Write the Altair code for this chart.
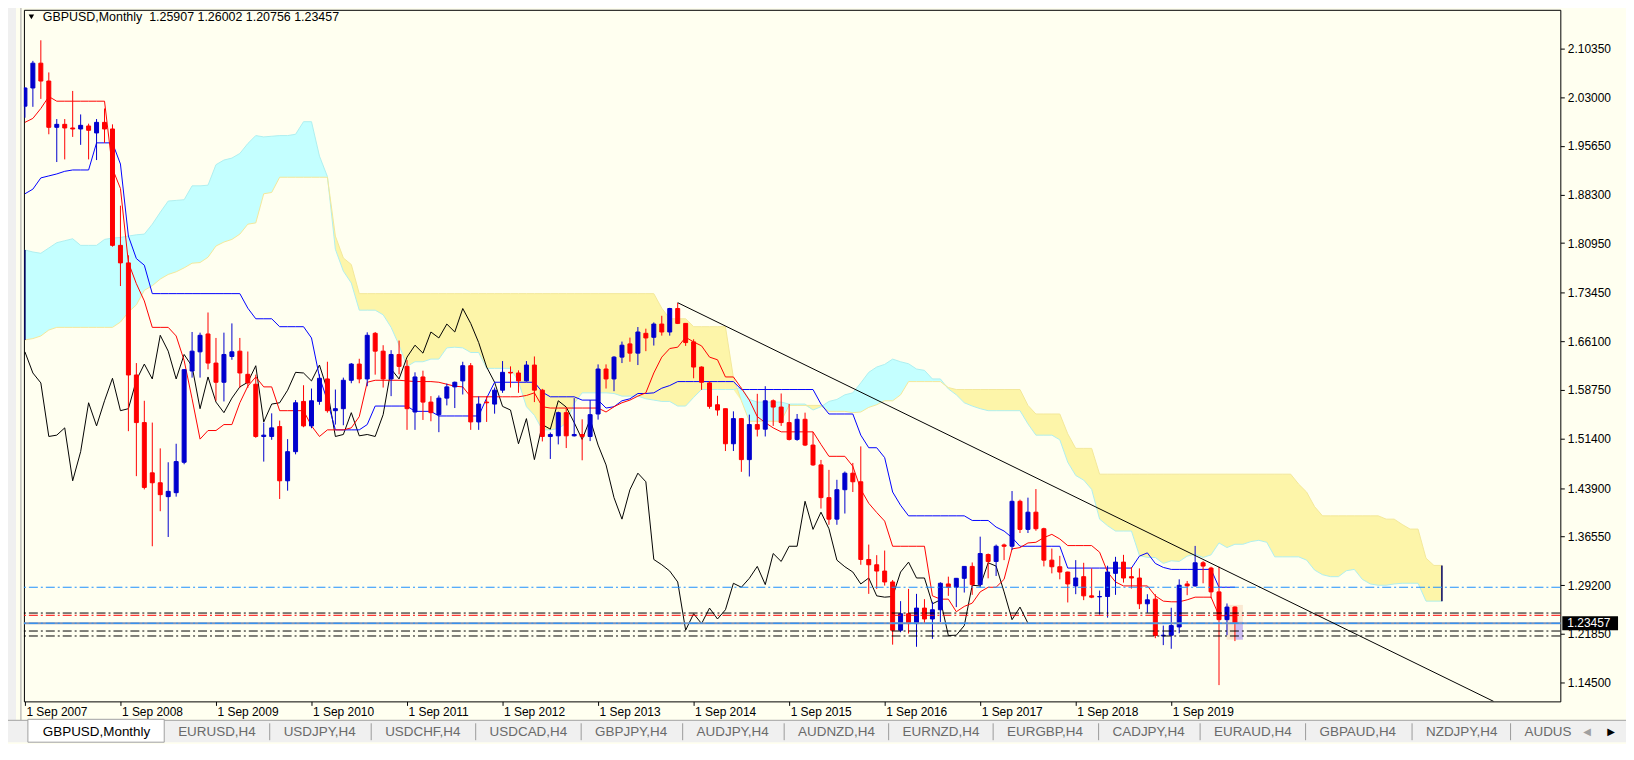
import altair as alt
import pandas as pd

# ---------------- values ----------------
OPEN = [2.0165, 2.0440, 2.0815, 2.0545, 1.9845, 1.9890, 1.9835, 1.9820, 1.9865, 1.9760,
        1.9920, 1.9820, 1.8060, 1.7795, 1.6100, 1.5380, 1.4620, 1.4470, 1.4260, 1.4320,
        1.4780, 1.6160, 1.6450, 1.6720, 1.6280, 1.5990, 1.6380, 1.6460, 1.6110, 1.5960,
        1.5170, 1.5170, 1.5320, 1.4500, 1.4940, 1.5700, 1.5330, 1.5700, 1.6040, 1.5560,
        1.5590, 1.6020, 1.6265, 1.6040, 1.6730, 1.6460, 1.6040, 1.6410, 1.6230, 1.5540,
        1.6070, 1.5690, 1.5500, 1.5750, 1.5920, 1.6010, 1.6240, 1.5390, 1.5690, 1.5660,
        1.5870, 1.6140, 1.6130, 1.6010, 1.6250, 1.5870, 1.5170, 1.5180, 1.5530, 1.5180,
        1.5200, 1.5170, 1.5510, 1.6190, 1.6040, 1.6370, 1.6570, 1.6430, 1.6730, 1.6670,
        1.6870, 1.6750, 1.7105, 1.6880, 1.6600, 1.6220, 1.5980, 1.5650, 1.5590, 1.5060,
        1.5440, 1.4820, 1.5350, 1.5280, 1.5710, 1.5615, 1.5380, 1.5125, 1.5430, 1.5040,
        1.4740, 1.4245, 1.3920, 1.4365, 1.4615, 1.4485, 1.3310, 1.3230, 1.3135, 1.2970,
        1.2240, 1.2490, 1.2340, 1.2575, 1.2410, 1.2550, 1.2940, 1.2890, 1.3025, 1.3205,
        1.2930, 1.3385, 1.3280, 1.3530, 1.3510, 1.4190, 1.3765, 1.4025, 1.3775, 1.3300,
        1.3200, 1.3120, 1.2910, 1.3050, 1.2760, 1.2745, 1.2750, 1.3100, 1.3270, 1.3050,
        1.3030, 1.2640, 1.2710, 1.2155, 1.2165, 1.2290, 1.2940, 1.2910, 1.3260, 1.3180,
        1.2820, 1.2400, 1.25907]
HIGH = [2.0450, 2.0850, 2.1161, 2.0675, 1.9970, 1.9970, 2.0395, 2.0040, 1.9900, 1.9970,
        2.0130, 1.9890, 1.8660, 1.7910, 1.6280, 1.5710, 1.5380, 1.4990, 1.4780, 1.5060,
        1.6190, 1.6750, 1.6740, 1.7045, 1.6660, 1.6740, 1.6880, 1.6660, 1.6455, 1.6105,
        1.5380, 1.5520, 1.5410, 1.5130, 1.5720, 1.5945, 1.5895, 1.6110, 1.6300, 1.5880,
        1.6060, 1.6280, 1.6345, 1.6745, 1.6750, 1.6550, 1.6475, 1.6620, 1.6325, 1.6140,
        1.6165, 1.5780, 1.5790, 1.5970, 1.6000, 1.6300, 1.6280, 1.5775, 1.5780, 1.5910,
        1.6310, 1.6230, 1.6170, 1.6310, 1.6380, 1.5890, 1.5230, 1.5545, 1.5605, 1.5750,
        1.5430, 1.5720, 1.6260, 1.6260, 1.6385, 1.6605, 1.6665, 1.6825, 1.6800, 1.6895,
        1.6995, 1.7115, 1.7190, 1.6885, 1.6640, 1.6230, 1.6005, 1.5785, 1.5590, 1.5550,
        1.5450, 1.5500, 1.5815, 1.5930, 1.5730, 1.5820, 1.5660, 1.5510, 1.5530, 1.5240,
        1.4815, 1.4665, 1.4515, 1.4640, 1.4770, 1.5020, 1.3535, 1.3375, 1.3445, 1.3000,
        1.2680, 1.2865, 1.2790, 1.2710, 1.2670, 1.2965, 1.3050, 1.3030, 1.3210, 1.3265,
        1.3655, 1.3400, 1.3535, 1.3550, 1.4345, 1.4215, 1.4245, 1.4375, 1.3790, 1.3475,
        1.3365, 1.3125, 1.3300, 1.3260, 1.3175, 1.2840, 1.3215, 1.3350, 1.3380, 1.3195,
        1.3175, 1.2785, 1.2785, 1.2310, 1.2580, 1.3010, 1.2985, 1.3515, 1.3285, 1.3200,
        1.3200, 1.2645, 1.26002]
LOW = [1.9990, 2.0155, 2.0275, 1.9740, 1.9320, 1.9360, 1.9700, 1.9580, 1.9360, 1.9350,
       1.9610, 1.8040, 1.7445, 1.5250, 1.4570, 1.4370, 1.3510, 1.4040, 1.3650, 1.4260,
       1.4750, 1.6060, 1.6060, 1.6185, 1.5710, 1.5700, 1.6330, 1.5905, 1.5905, 1.5150,
       1.4790, 1.5120, 1.4225, 1.4350, 1.4900, 1.5310, 1.5295, 1.5650, 1.5530, 1.5350,
       1.5340, 1.5975, 1.5975, 1.5930, 1.6105, 1.5910, 1.5780, 1.6110, 1.5270, 1.5270,
       1.5420, 1.5400, 1.5235, 1.5640, 1.5600, 1.5805, 1.5270, 1.5270, 1.5390, 1.5515,
       1.5830, 1.5910, 1.5830, 1.6000, 1.5690, 1.5095, 1.4830, 1.5050, 1.4995, 1.5170,
       1.4810, 1.5100, 1.5425, 1.5895, 1.5855, 1.6280, 1.6300, 1.6250, 1.6460, 1.6545,
       1.6695, 1.6695, 1.6870, 1.6540, 1.6050, 1.5875, 1.5590, 1.5485, 1.4950, 1.4950,
       1.4635, 1.4565, 1.5170, 1.5170, 1.5330, 1.5330, 1.5110, 1.5105, 1.5025, 1.4725,
       1.4080, 1.3835, 1.3835, 1.4005, 1.4330, 1.3230, 1.2790, 1.2865, 1.2915, 1.2022,
       1.2210, 1.2190, 1.1990, 1.2345, 1.2110, 1.2365, 1.2760, 1.2590, 1.2810, 1.2775,
       1.2885, 1.3025, 1.3060, 1.3300, 1.3455, 1.3710, 1.3710, 1.3745, 1.3205, 1.3100,
       1.3010, 1.2660, 1.2785, 1.2695, 1.2725, 1.2475, 1.2430, 1.2775, 1.2960, 1.2870,
       1.2560, 1.2505, 1.2120, 1.2015, 1.1960, 1.2195, 1.2770, 1.2900, 1.2950, 1.2725,
       1.1410, 1.2165, 1.20756]
CLOSE = [2.0440, 2.0815, 2.0545, 1.9845, 1.9890, 1.9835, 1.9820, 1.9875, 1.9800, 1.9920,
         1.9820, 1.8060, 1.7795, 1.6100, 1.5380, 1.4400, 1.4470, 1.4290, 1.4340, 1.4790,
         1.6180, 1.6460, 1.6700, 1.6280, 1.5990, 1.6410, 1.6450, 1.6130, 1.5980, 1.5170,
         1.5190, 1.5300, 1.4500, 1.4940, 1.5680, 1.5330, 1.5710, 1.6050, 1.5560, 1.5590,
         1.6020, 1.6265, 1.6040, 1.6700, 1.6460, 1.6040, 1.6410, 1.6230, 1.5590, 1.6070,
         1.5690, 1.5530, 1.5750, 1.5920, 1.5990, 1.6240, 1.5390, 1.5660, 1.5680, 1.5870,
         1.6140, 1.6130, 1.6010, 1.6250, 1.5870, 1.5170, 1.5200, 1.5530, 1.5180, 1.5200,
         1.5170, 1.5500, 1.6190, 1.6040, 1.6370, 1.6550, 1.6430, 1.6750, 1.6660, 1.6870,
         1.6750, 1.7105, 1.6880, 1.6590, 1.6220, 1.5990, 1.5625, 1.5570, 1.5060, 1.5440,
         1.4820, 1.5350, 1.5280, 1.5710, 1.5615, 1.5380, 1.5125, 1.5430, 1.5040, 1.4740,
         1.4245, 1.3920, 1.4365, 1.4615, 1.4485, 1.3310, 1.3230, 1.3135, 1.2970, 1.2240,
         1.2490, 1.2340, 1.2575, 1.2410, 1.2550, 1.2950, 1.2890, 1.3025, 1.3205, 1.2930,
         1.3400, 1.3280, 1.3510, 1.3510, 1.4190, 1.3765, 1.4025, 1.3775, 1.3300, 1.3200,
         1.3120, 1.2940, 1.3030, 1.2760, 1.2740, 1.2750, 1.3120, 1.3270, 1.3030, 1.3030,
         1.2640, 1.2700, 1.2160, 1.2165, 1.2310, 1.2920, 1.2910, 1.3260, 1.3210, 1.2820,
         1.2400, 1.2590, 1.23457]

TENKAN = [1.992, 1.998, 2.013, 2.031, 2.024, 2.024, 2.024, 2.024, 2.024, 2.024,
          2.024, 1.922, 1.892, 1.780, 1.748, 1.722, 1.682, 1.682, 1.682, 1.669,
          1.632, 1.574, 1.513, 1.526, 1.526, 1.535, 1.535, 1.568, 1.593, 1.607,
          1.592, 1.592, 1.556, 1.556, 1.556, 1.556, 1.533, 1.517, 1.527, 1.527,
          1.527, 1.530, 1.547, 1.599, 1.602, 1.602, 1.602, 1.602, 1.601, 1.600,
          1.600, 1.600, 1.599, 1.596, 1.593, 1.592, 1.577, 1.577, 1.577, 1.577,
          1.577, 1.577, 1.577, 1.579, 1.583, 1.562, 1.560, 1.560, 1.560, 1.560,
          1.560, 1.560, 1.560, 1.554, 1.562, 1.568, 1.572, 1.578, 1.583, 1.613,
          1.637, 1.650, 1.652, 1.667, 1.660, 1.654, 1.637, 1.633, 1.607, 1.607,
          1.590, 1.572, 1.547, 1.538, 1.530, 1.524, 1.524, 1.524, 1.524, 1.524,
          1.505, 1.487, 1.487, 1.487, 1.472, 1.437, 1.416, 1.402, 1.389, 1.351,
          1.351, 1.351, 1.351, 1.351, 1.276, 1.271, 1.271, 1.252, 1.260, 1.265,
          1.282, 1.289, 1.289, 1.301, 1.347, 1.349, 1.356, 1.357, 1.364, 1.369,
          1.362, 1.352, 1.352, 1.352, 1.352, 1.342, 1.312, 1.297, 1.291, 1.291,
          1.291, 1.291, 1.276, 1.268, 1.267, 1.267, 1.270, 1.274, 1.274, 1.274,
          1.246, 1.246, 1.246]
KIJUN = [1.884, 1.891, 1.908, 1.911, 1.914, 1.918, 1.920, 1.920, 1.920, 1.961,
         1.961, 1.961, 1.929, 1.820, 1.786, 1.776, 1.733, 1.733, 1.733, 1.733,
         1.733, 1.733, 1.733, 1.733, 1.733, 1.733, 1.733, 1.733, 1.711, 1.695,
         1.695, 1.695, 1.683, 1.683, 1.683, 1.683, 1.666, 1.607, 1.571, 1.527,
         1.527, 1.527, 1.527, 1.535, 1.563, 1.563, 1.563, 1.563, 1.563, 1.555,
         1.555, 1.555, 1.548, 1.548, 1.548, 1.548, 1.548, 1.548, 1.575, 1.599,
         1.599, 1.599, 1.599, 1.599, 1.599, 1.584, 1.577, 1.577, 1.577, 1.577,
         1.572, 1.572, 1.572, 1.560, 1.562, 1.571, 1.574, 1.582, 1.582, 1.583,
         1.590, 1.594, 1.600, 1.600, 1.600, 1.600, 1.600, 1.600, 1.600, 1.600,
         1.588, 1.588, 1.588, 1.588, 1.588, 1.588, 1.588, 1.588, 1.588, 1.588,
         1.566, 1.551, 1.551, 1.551, 1.551, 1.519, 1.500, 1.500, 1.485, 1.433,
         1.413, 1.397, 1.397, 1.397, 1.397, 1.397, 1.397, 1.397, 1.397, 1.390,
         1.390, 1.390, 1.380, 1.374, 1.364, 1.351, 1.351, 1.351, 1.351, 1.351,
         1.351, 1.318, 1.318, 1.318, 1.318, 1.318, 1.318, 1.318, 1.318, 1.318,
         1.336, 1.341, 1.325, 1.319, 1.316, 1.316, 1.316, 1.316, 1.316, 1.316,
         1.289, 1.289, 1.289]
SENKOU_A = [1.799, 1.796, 1.794, 1.802, 1.810, 1.813, 1.816, 1.806, 1.806, 1.806,
            1.815, 1.817, 1.818, 1.820, 1.822, 1.823, 1.838, 1.856, 1.873, 1.874,
            1.875, 1.896, 1.896, 1.897, 1.928, 1.935, 1.938, 1.945, 1.960, 1.972,
            1.970, 1.971, 1.972, 1.972, 1.974, 1.993, 1.993, 1.941, 1.910, 1.800,
            1.767, 1.749, 1.708, 1.708, 1.708, 1.701, 1.682, 1.655, 1.623, 1.630,
            1.630, 1.634, 1.634, 1.651, 1.652, 1.651, 1.644, 1.644, 1.620, 1.620,
            1.620, 1.620, 1.600, 1.562, 1.549, 1.527, 1.527, 1.529, 1.537, 1.567,
            1.583, 1.583, 1.583, 1.583, 1.582, 1.578, 1.578, 1.578, 1.574, 1.572,
            1.570, 1.570, 1.563, 1.563, 1.576, 1.588, 1.588, 1.588, 1.588, 1.588,
            1.591, 1.573, 1.569, 1.569, 1.569, 1.569, 1.566, 1.566, 1.566, 1.557,
            1.562, 1.570, 1.573, 1.580, 1.583, 1.598, 1.614, 1.622, 1.626, 1.634,
            1.630, 1.627, 1.619, 1.617, 1.604, 1.604, 1.589, 1.580, 1.568, 1.563,
            1.559, 1.556, 1.556, 1.556, 1.556, 1.556, 1.536, 1.519, 1.519, 1.519,
            1.512, 1.478, 1.458, 1.451, 1.437, 1.392, 1.382, 1.374, 1.374, 1.374,
            1.337, 1.334, 1.334, 1.325, 1.329, 1.328, 1.336, 1.339, 1.334, 1.338,
            1.356, 1.349, 1.354, 1.354, 1.358, 1.360, 1.357, 1.335, 1.335, 1.335,
            1.335, 1.330, 1.315, 1.308, 1.305, 1.305, 1.314, 1.316, 1.301, 1.294,
            1.292, 1.292, 1.294, 1.295, 1.295, 1.295, 1.268, 1.268, 1.268]
SENKOU_B = [1.663, 1.665, 1.669, 1.678, 1.682, 1.682, 1.682, 1.682, 1.682, 1.682,
            1.682, 1.682, 1.690, 1.705, 1.716, 1.738, 1.745, 1.755, 1.762, 1.766,
            1.772, 1.779, 1.780, 1.788, 1.805, 1.811, 1.815, 1.823, 1.838, 1.840,
            1.884, 1.886, 1.909, 1.909, 1.909, 1.909, 1.909, 1.909, 1.909, 1.820,
            1.787, 1.777, 1.733, 1.733, 1.733, 1.733, 1.733, 1.733, 1.733, 1.733,
            1.733, 1.733, 1.733, 1.733, 1.733, 1.733, 1.733, 1.733, 1.733, 1.733,
            1.733, 1.733, 1.733, 1.733, 1.733, 1.733, 1.733, 1.733, 1.733, 1.733,
            1.733, 1.733, 1.733, 1.733, 1.733, 1.733, 1.733, 1.733, 1.733, 1.733,
            1.711, 1.695, 1.695, 1.695, 1.683, 1.683, 1.683, 1.683, 1.683, 1.606,
            1.571, 1.540, 1.540, 1.540, 1.540, 1.540, 1.564, 1.564, 1.564, 1.564,
            1.564, 1.555, 1.555, 1.555, 1.553, 1.554, 1.561, 1.565, 1.571, 1.571,
            1.580, 1.600, 1.600, 1.600, 1.600, 1.600, 1.591, 1.588, 1.588, 1.588,
            1.588, 1.588, 1.588, 1.588, 1.588, 1.588, 1.564, 1.551, 1.551, 1.551,
            1.551, 1.521, 1.499, 1.499, 1.499, 1.460, 1.460, 1.460, 1.460, 1.460,
            1.460, 1.460, 1.460, 1.460, 1.460, 1.460, 1.460, 1.460, 1.460, 1.460,
            1.460, 1.460, 1.460, 1.460, 1.460, 1.460, 1.460, 1.460, 1.460, 1.460,
            1.445, 1.433, 1.411, 1.397, 1.397, 1.397, 1.397, 1.397, 1.397, 1.397,
            1.397, 1.392, 1.392, 1.384, 1.377, 1.377, 1.333, 1.322, 1.322]
CHIKOU_SHIFT = 26

YEAR_BARS = [0, 12, 24, 36, 48, 60, 72, 84, 96, 108, 120, 132, 144]
YEAR_LABELS = ["1 Sep 2007", "1 Sep 2008", "1 Sep 2009", "1 Sep 2010", "1 Sep 2011",
               "1 Sep 2012", "1 Sep 2013", "1 Sep 2014", "1 Sep 2015", "1 Sep 2016",
               "1 Sep 2017", "1 Sep 2018", "1 Sep 2019"]
PRICE_TICKS = [2.10350, 2.03000, 1.95650, 1.88300, 1.80950, 1.73450, 1.66100,
               1.58750, 1.51400, 1.43900, 1.36550, 1.29200, 1.21850, 1.14500]

BLACK_LEVELS = [1.2500, 1.2228, 1.2153]
RED_LEVELS = [1.2466]
BLUE_LEVELS = [1.2890]
BID = CLOSE[-1]
TREND_BARS = [82, 184.5]
TREND_PRICES = [1.7193, 1.1164]
BOX_BARS = [150.95, 153.0]
BOX_PRICES = [1.2623, 1.2097]
BOX2_BARS = [152.1, 153.0]
BOX2_PRICES = [1.2368, 1.2097]

TITLE_TEXT = "GBPUSD,Monthly\u00a0 1.25907 1.26002 1.20756 1.23457"
TABS = ["GBPUSD,Monthly", "EURUSD,H4", "USDJPY,H4", "USDCHF,H4", "USDCAD,H4", "GBPJPY,H4",
        "AUDJPY,H4", "AUDNZD,H4", "EURNZD,H4", "EURGBP,H4", "CADJPY,H4", "EURAUD,H4",
        "GBPAUD,H4", "NZDJPY,H4", "AUDUSD,H4"]

# ---------------- layout / style ----------------
TAB_X = [19, 155, 261, 363, 468, 574, 676, 778, 883, 988, 1094, 1196, 1302, 1409, 1508]
X_DOMAIN = [-0.125, 192.875]
Y_DOMAIN = [1.1164, 2.1622]
W, H = 1544, 695
FONT = "Liberation Sans"
BG = "#FFFFF0"
BULL, BEAR = "#0000CD", "#FF0000"
CLOUD_UP, CLOUD_DN = "#C4FFFF", "#FDF5A9"
DASHDOT = [9, 3, 2, 3]

xs = alt.Scale(domain=X_DOMAIN, nice=False, zero=False)
ys = alt.Scale(domain=Y_DOMAIN, nice=False, zero=False)

label_expr = "[" + ",".join("'%s'" % s for s in YEAR_LABELS) + "][indexof([" + \
    ",".join(str(b) for b in YEAR_BARS) + "], datum.value)]"

XAXIS = alt.Axis(values=YEAR_BARS, labelExpr=label_expr, tickSize=4, tickColor="black",
                 labelColor="black", labelFont=FONT, labelFontSize=12, labelAlign="left",
                 labelBaseline="top", labelPadding=1, labelOffset=1, domain=False, grid=False,
                 title=None, labelFlush=False, labelOverlap=False)
YAXIS = alt.Axis(orient="right", values=PRICE_TICKS, format=".5f", tickSize=4,
                 tickColor="black", labelColor="black", labelFont=FONT, labelFontSize=12,
                 labelPadding=3, labelBaseline="middle", domain=False, grid=False,
                 title=None, labelFlush=False, labelOverlap=False)


def X(f):
    return alt.X(f, scale=xs, axis=XAXIS)


def Y(f):
    return alt.Y(f, scale=ys, axis=YAXIS)


N = len(CLOSE)
candles = pd.DataFrame({"i": list(range(N)), "open": OPEN, "high": HIGH, "low": LOW,
                        "close": CLOSE})
candles["dir"] = ["bull" if c >= o else "bear" for o, c in zip(OPEN, CLOSE)]
cloud = pd.DataFrame({"i": list(range(len(SENKOU_A))), "a": SENKOU_A, "b": SENKOU_B})
tenkan = pd.DataFrame({"i": list(range(len(TENKAN))), "v": TENKAN})
kijun = pd.DataFrame({"i": list(range(len(KIJUN))), "v": KIJUN})
chikou = pd.DataFrame({"i": list(range(N - CHIKOU_SHIFT)), "v": CLOSE[CHIKOU_SHIFT:]})
ends = cloud.iloc[[0, len(cloud) - 1]]
ONE = pd.DataFrame({"k": [0]})

layers = []

# cloud
cb = alt.Chart(cloud).transform_calculate(lo="min(datum.a, datum.b)")
layers.append(cb.mark_area(color=CLOUD_UP, clip=True).encode(x=X("i:Q"), y=Y("a:Q"), y2="lo:Q"))
layers.append(cb.mark_area(color=CLOUD_DN, clip=True).encode(x=X("i:Q"), y=Y("b:Q"), y2="lo:Q"))
layers.append(alt.Chart(cloud).mark_line(color="#AEEFEF", strokeWidth=1, clip=True)
              .encode(x=X("i:Q"), y=Y("a:Q")))
layers.append(alt.Chart(cloud).mark_line(color="#F3E89A", strokeWidth=1, clip=True)
              .encode(x=X("i:Q"), y=Y("b:Q")))
layers.append(alt.Chart(ends).mark_rule(color="#000060", strokeWidth=1.5)
              .encode(x=X("i:Q"), y=Y("a:Q"), y2="b:Q"))

# last-bar highlight boxes
box = pd.DataFrame({"x1": [BOX_BARS[0]], "x2": [BOX_BARS[1]], "y1": [BOX_PRICES[0]], "y2": [BOX_PRICES[1]]})
box2 = pd.DataFrame({"x1": [BOX2_BARS[0]], "x2": [BOX2_BARS[1]], "y1": [BOX2_PRICES[0]], "y2": [BOX2_PRICES[1]]})
layers.append(alt.Chart(box).mark_rect(color="#FBE9D2").encode(x=X("x1:Q"), x2="x2:Q", y=Y("y1:Q"), y2="y2:Q"))
layers.append(alt.Chart(box2).mark_rect(color="#CBBDF2").encode(x=X("x1:Q"), x2="x2:Q", y=Y("y1:Q"), y2="y2:Q"))

# ichimoku lines
layers.append(alt.Chart(chikou).mark_line(color="black", strokeWidth=1, clip=True)
              .encode(x=X("i:Q"), y=Y("v:Q")))
layers.append(alt.Chart(kijun).mark_line(color="#0000FF", strokeWidth=1, clip=True)
              .encode(x=X("i:Q"), y=Y("v:Q")))
layers.append(alt.Chart(tenkan).mark_line(color="#FF0000", strokeWidth=1, clip=True)
              .encode(x=X("i:Q"), y=Y("v:Q")))

# candles
cscale = alt.Scale(domain=["bull", "bear"], range=[BULL, BEAR])
layers.append(alt.Chart(candles).mark_rule(strokeWidth=1, clip=True).encode(
    x=X("i:Q"), y=Y("low:Q"), y2="high:Q",
    color=alt.Color("dir:N", scale=cscale, legend=None)))
layers.append(alt.Chart(candles).transform_calculate(
    x1="datum.i - 0.25", x2="datum.i + 0.25").mark_rect(strokeWidth=1, clip=True).encode(
    x=X("x1:Q"), x2="x2:Q", y=Y("open:Q"), y2="close:Q",
    color=alt.Color("dir:N", scale=cscale, legend=None),
    stroke=alt.Stroke("dir:N", scale=cscale, legend=None)))

# horizontal levels
layers.append(alt.Chart(pd.DataFrame({"p": BLUE_LEVELS})).mark_rule(
    color="#1E90FF", strokeDash=DASHDOT, strokeWidth=1).encode(y=Y("p:Q")))
layers.append(alt.Chart(pd.DataFrame({"p": BLACK_LEVELS})).mark_rule(
    color="black", strokeDash=DASHDOT, strokeWidth=1).encode(y=Y("p:Q")))
layers.append(alt.Chart(pd.DataFrame({"p": RED_LEVELS})).mark_rule(
    color="#FF0000", strokeDash=DASHDOT, strokeWidth=1).encode(y=Y("p:Q")))
bid = pd.DataFrame({"p": [BID], "lbl": ["%.5f" % BID]})
layers.append(alt.Chart(bid).mark_rule(color="#7F93B8", strokeWidth=2).encode(y=Y("p:Q")))
layers.append(alt.Chart(bid).mark_rule(color="#1E90FF", strokeDash=DASHDOT, strokeWidth=1)
              .encode(y=Y("p:Q")))

# trend line
layers.append(alt.Chart(pd.DataFrame({"i": TREND_BARS, "p": TREND_PRICES}))
              .mark_line(color="black", strokeWidth=1, clip=True).encode(x=X("i:Q"), y=Y("p:Q")))

# bid price label on the axis
layers.append(alt.Chart(bid).mark_rule(color="black", strokeWidth=14).encode(
    x=alt.value(W + 2), x2=alt.value(W + 58), y=Y("p:Q")))
layers.append(alt.Chart(bid).mark_text(align="left", baseline="middle", color="white",
                                       font=FONT, fontSize=12).encode(
    x=alt.value(W + 7), y=Y("p:Q"), text="lbl:N"))

# title inside the chart
layers.append(alt.Chart(ONE).mark_point(shape="triangle-down", filled=True, color="black",
                                        size=30, opacity=1).encode(x=alt.value(7.5), y=alt.value(7)))
layers.append(alt.Chart(ONE).mark_text(text=TITLE_TEXT, align="left", baseline="middle",
                                       font=FONT, fontSize=12.5, color="black").encode(
    x=alt.value(19), y=alt.value(7)))

# window chrome: left strip
layers.append(alt.Chart(ONE).mark_rect(color="#F0F0F0").encode(
    x=alt.value(-16), x2=alt.value(-8), y=alt.value(-8), y2=alt.value(714)))
layers.append(alt.Chart(ONE).mark_rule(color="#A0A0A0", strokeWidth=1).encode(
    x=alt.value(-3), y=alt.value(-8), y2=alt.value(714)))

# tab bar
TB_Y0, TB_Y1 = 714, 736
layers.append(alt.Chart(ONE).mark_rect(color="#F0F0F0").encode(
    x=alt.value(-16), x2=alt.value(1610), y=alt.value(TB_Y0), y2=alt.value(TB_Y1)))
layers.append(alt.Chart(ONE).mark_rule(color="#A0A0A0").encode(
    x=alt.value(-16), x2=alt.value(1610), y=alt.value(TB_Y0)))
layers.append(alt.Chart(ONE).mark_rect(color="white", stroke="#A0A0A0", strokeWidth=1).encode(
    x=alt.value(TAB_X[0] - 15), x2=alt.value(TAB_X[1] - 14), y=alt.value(TB_Y0 - 1),
    y2=alt.value(TB_Y1)))
for k, (lbl, tx) in enumerate(zip(TABS, TAB_X)):
    if k > 1:
        layers.append(alt.Chart(ONE).mark_rule(color="#9A9A9A").encode(
            x=alt.value(tx - 14), y=alt.value(TB_Y0 + 3), y2=alt.value(TB_Y1 - 2)))
    extra = {"limit": 56, "ellipsis": "\u200b"} if k == len(TABS) - 1 else {}
    layers.append(alt.Chart(ONE).mark_text(
        text=lbl, align="left", baseline="middle", font=FONT, fontSize=13.5,
        color="black" if k == 0 else "#6A6A6A", **extra).encode(
        x=alt.value(tx), y=alt.value((TB_Y0 + TB_Y1) / 2 + 1)))
layers.append(alt.Chart(ONE).mark_text(text="\u25C0", font="DejaVu Sans", fontSize=10,
                                       color="#A0A0A0").encode(x=alt.value(1571), y=alt.value(726)))
layers.append(alt.Chart(ONE).mark_text(text="\u25B6", font="DejaVu Sans", fontSize=10,
                                       color="black").encode(x=alt.value(1595), y=alt.value(726)))

chart = alt.layer(*layers).properties(
    width=W, height=H,
    padding={"left": 16, "top": 0, "right": 66, "bottom": 41},
    autosize=alt.AutoSizeParams(type="none"),
    background=BG,
).configure_view(stroke="black", strokeWidth=1)

chart.save("out.html", embed_options={"renderer": "svg", "actions": False})
